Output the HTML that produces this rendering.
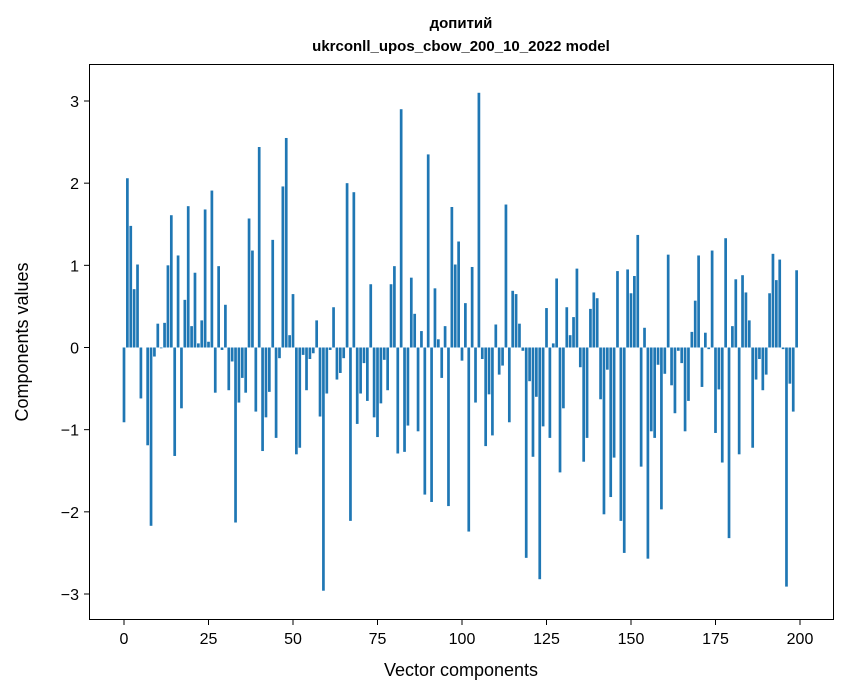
<!DOCTYPE html>
<html><head><meta charset="utf-8"><style>
body{margin:0;background:#fff}
svg{display:block;font-family:"Liberation Sans",sans-serif}
</style></head><body>
<svg id="chart" width="847" height="696" viewBox="0 0 847 696">
<rect width="847" height="696" fill="#fff"/>
<text x="461" y="28" text-anchor="middle" font-size="15" font-weight="bold">допитий</text>
<text x="461" y="51" text-anchor="middle" font-size="15" font-weight="bold">ukrconll_upos_cbow_200_10_2022 model</text>
<g id="bars"></g>
<g id="xticks"></g>
<g id="yticks"></g>
<rect x="89.5" y="64.5" width="744" height="555" fill="none" stroke="#000" stroke-width="1"/>
<text x="461" y="676" text-anchor="middle" font-size="18">Vector components</text>
<text transform="translate(28,342) rotate(-90)" text-anchor="middle" font-size="18">Components values</text>
</svg>
<script>
const values = [-0.91,2.06,1.48,0.71,1.01,-0.62,0,-1.19,-2.17,-0.11,0.29,-0.01,0.30,1.0,1.61,-1.32,1.12,-0.74,0.58,1.72,0.26,0.91,0.05,0.33,1.68,0.07,1.91,-0.55,0.99,-0.03,0.52,-0.52,-0.17,-2.13,-0.67,-0.37,-0.55,1.57,1.18,-0.78,2.44,-1.26,-0.85,-0.54,1.31,-1.10,-0.13,1.96,2.55,0.15,0.65,-1.30,-1.22,-0.09,-0.52,-0.14,-0.07,0.33,-0.84,-2.96,-0.56,-0.03,0.49,-0.39,-0.31,-0.13,2.0,-2.11,1.89,-0.93,-0.56,-0.19,-0.65,0.77,-0.85,-1.09,-0.68,-0.15,-0.52,0.77,0.99,-1.29,2.90,-1.27,-0.95,0.85,0.41,-1.02,0.20,-1.79,2.35,-1.88,0.72,0.10,-0.37,0.26,-1.93,1.71,1.01,1.29,-0.16,0.54,-2.24,0.98,-0.67,3.10,-0.14,-1.20,-0.57,-1.07,0.28,-0.33,-0.22,1.74,-0.91,0.69,0.65,0.29,-0.04,-2.56,-0.41,-1.33,-0.60,-2.82,-0.96,0.48,-1.10,0.05,0.84,-1.52,-0.74,0.49,0.15,0.37,0.96,-0.24,-1.39,-1.10,0.47,0.67,0.60,-0.63,-2.03,-0.27,-1.82,-1.34,0.93,-2.11,-2.50,0.95,0.66,0.87,1.37,-1.45,0.24,-2.57,-1.02,-1.10,-0.21,-1.97,-0.32,1.13,-0.46,-0.80,-0.04,-0.19,-1.02,-0.65,0.19,0.57,1.12,-0.48,0.18,-0.02,1.18,-1.04,-0.51,-1.40,1.33,-2.32,0.26,0.83,-1.30,0.88,0.67,0.33,-1.22,-0.39,-0.14,-0.52,-0.33,0.66,1.14,0.82,1.07,-0.02,-2.91,-0.44,-0.78,0.94];
const xTickLabels = [0,25,50,75,100,125,150,175,200];
const yTickLabels = [-3,-2,-1,0,1,2,3];
const NS="http://www.w3.org/2000/svg";
function xScale(v){return 124+(800-124)*v/200;}
function yScale(v){return 347.5-(347.5-101)*v/3;}
const bars=document.getElementById('bars');
const bw=(xScale(1)-xScale(0))*0.8;
values.forEach((v,i)=>{
  const r=document.createElementNS(NS,'rect');
  
  
  const y0=yScale(0), y1=yScale(v);
  r.setAttribute('x',xScale(i)-bw/2);
  r.setAttribute('y',Math.min(y0,y1));
  r.setAttribute('width',bw);
  r.setAttribute('height',Math.abs(y1-y0));
  r.setAttribute('fill','#1f77b4');
  bars.appendChild(r);
});
const xt=document.getElementById('xticks');
xTickLabels.forEach(t=>{
  const x=xScale(t);
  const l=document.createElementNS(NS,'line');
  
  
  l.setAttribute('x1',x);l.setAttribute('x2',x);l.setAttribute('y1',619.5);l.setAttribute('y2',625);
  l.setAttribute('stroke','#000');
  xt.appendChild(l);
  const tx=document.createElementNS(NS,'text');
  
  
  tx.setAttribute('x',x);tx.setAttribute('y',644);
  tx.setAttribute('text-anchor','middle');tx.setAttribute('font-size','16');
  tx.textContent=t;
  xt.appendChild(tx);
});
const yt=document.getElementById('yticks');
yTickLabels.forEach(t=>{
  const y=yScale(t);
  const l=document.createElementNS(NS,'line');
  
  
  l.setAttribute('x1',84);l.setAttribute('x2',89.5);l.setAttribute('y1',y);l.setAttribute('y2',y);
  l.setAttribute('stroke','#000');
  yt.appendChild(l);
  const tx=document.createElementNS(NS,'text');
  
  
  tx.setAttribute('x',79);tx.setAttribute('y',y+6);
  tx.setAttribute('text-anchor','end');tx.setAttribute('font-size','16');
  tx.textContent=t<0?'\u2212'+(-t):String(t);
  yt.appendChild(tx);
});
</script>
</body></html>
